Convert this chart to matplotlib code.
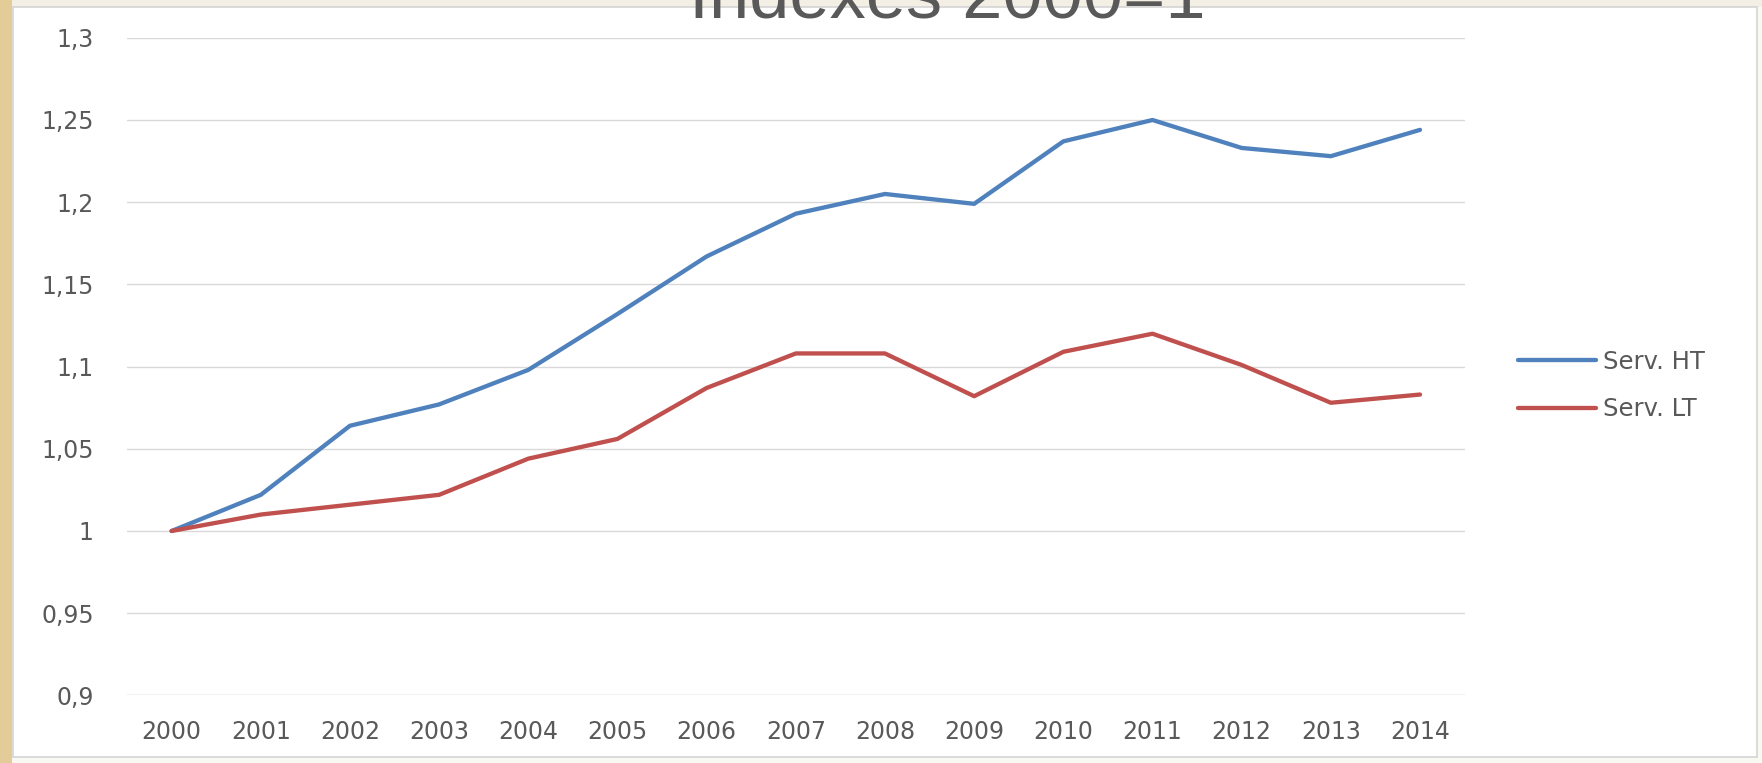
import numpy as np
import matplotlib
matplotlib.use("Agg")
import matplotlib.pyplot as plt
from matplotlib.patches import Rectangle

# Data
years = ["2000", "2001", "2002", "2003", "2004", "2005", "2006", "2007",
         "2008", "2009", "2010", "2011", "2012", "2013", "2014"]
serv_ht = [1.000, 1.022, 1.064, 1.077, 1.098, 1.132, 1.167, 1.193,
           1.205, 1.199, 1.237, 1.250, 1.233, 1.228, 1.244]
serv_lt = [1.000, 1.010, 1.016, 1.022, 1.044, 1.056, 1.087, 1.108,
           1.108, 1.082, 1.109, 1.120, 1.101, 1.078, 1.083]
y_ticks = [0.9, 0.95, 1.0, 1.05, 1.1, 1.15, 1.2, 1.25, 1.3]
y_tick_labels = ["0,9", "0,95", "1", "1,05", "1,1", "1,15", "1,2", "1,25", "1,3"]
series_names = ["Serv. HT", "Serv. LT"]
title_text = "Indexes 2000=1"

W, H = 1762, 763
fig = plt.figure(figsize=(W / 100, H / 100), dpi=100)
fig.patch.set_facecolor("#FAF8F3")

# parchment band on the left edge
fig.add_artist(Rectangle((0, 0), 12 / W, 1, transform=fig.transFigure,
                         facecolor="#E3CC98", edgecolor="none", zorder=0))
# pale strip along the top edge
fig.add_artist(Rectangle((12 / W, 756 / H), 1 - 12 / W, 7 / H,
                         transform=fig.transFigure, facecolor="#F4EFE4",
                         edgecolor="none", zorder=0))
# white chart area with a thin grey border
fig.add_artist(Rectangle((13 / W, 6 / H), (1757 - 13) / W, (756 - 6) / H,
                         transform=fig.transFigure, facecolor="white",
                         edgecolor="#D4D4D4", linewidth=1.2, zorder=0))

text_color = "#595959"
grid_color = "#D9D9D9"

ax = fig.add_axes([127 / W, (763 - 695.4) / H, (1464.6 - 127) / W, (695.4 - 37.8) / H])
ax.set_facecolor("none")

x = np.arange(len(years))
ax.plot(x, serv_ht, color="#4F81BD", lw=3.1, solid_joinstyle="round",
        solid_capstyle="round", label=series_names[0], zorder=3)
ax.plot(x, serv_lt, color="#C0504D", lw=3.1, solid_joinstyle="round",
        solid_capstyle="round", label=series_names[1], zorder=3)

ax.set_xlim(-0.5, len(years) - 0.5)
ax.set_ylim(0.9, 1.3)
ax.set_yticks(y_ticks)
ax.set_yticklabels(y_tick_labels)
ax.set_xticks(x)
ax.set_xticklabels(years)

for s in ax.spines.values():
    s.set_visible(False)
ax.tick_params(axis="both", length=0, labelsize=17, labelcolor=text_color)
ax.tick_params(axis="y", pad=24)
ax.tick_params(axis="x", pad=18)
ax.yaxis.grid(True, color=grid_color, lw=1.0)
ax.set_axisbelow(True)
ax.axhline(0.9, color=grid_color, lw=1.0, zorder=1)

leg = fig.legend(loc="center left", bbox_to_anchor=(1518 / W, (763 - 385.5) / H),
                 frameon=False, fontsize=17.5, handlelength=3.2,
                 handletextpad=0.3, labelspacing=0.95, borderpad=0,
                 borderaxespad=0)
for t in leg.get_texts():
    t.set_color(text_color)

fig.text(947.5 / W, (763 - 17) / H, title_text, ha="center", va="baseline",
         fontsize=52, color=text_color, family="Liberation Sans")

fig.savefig("out.png", dpi=100, facecolor=fig.get_facecolor())
